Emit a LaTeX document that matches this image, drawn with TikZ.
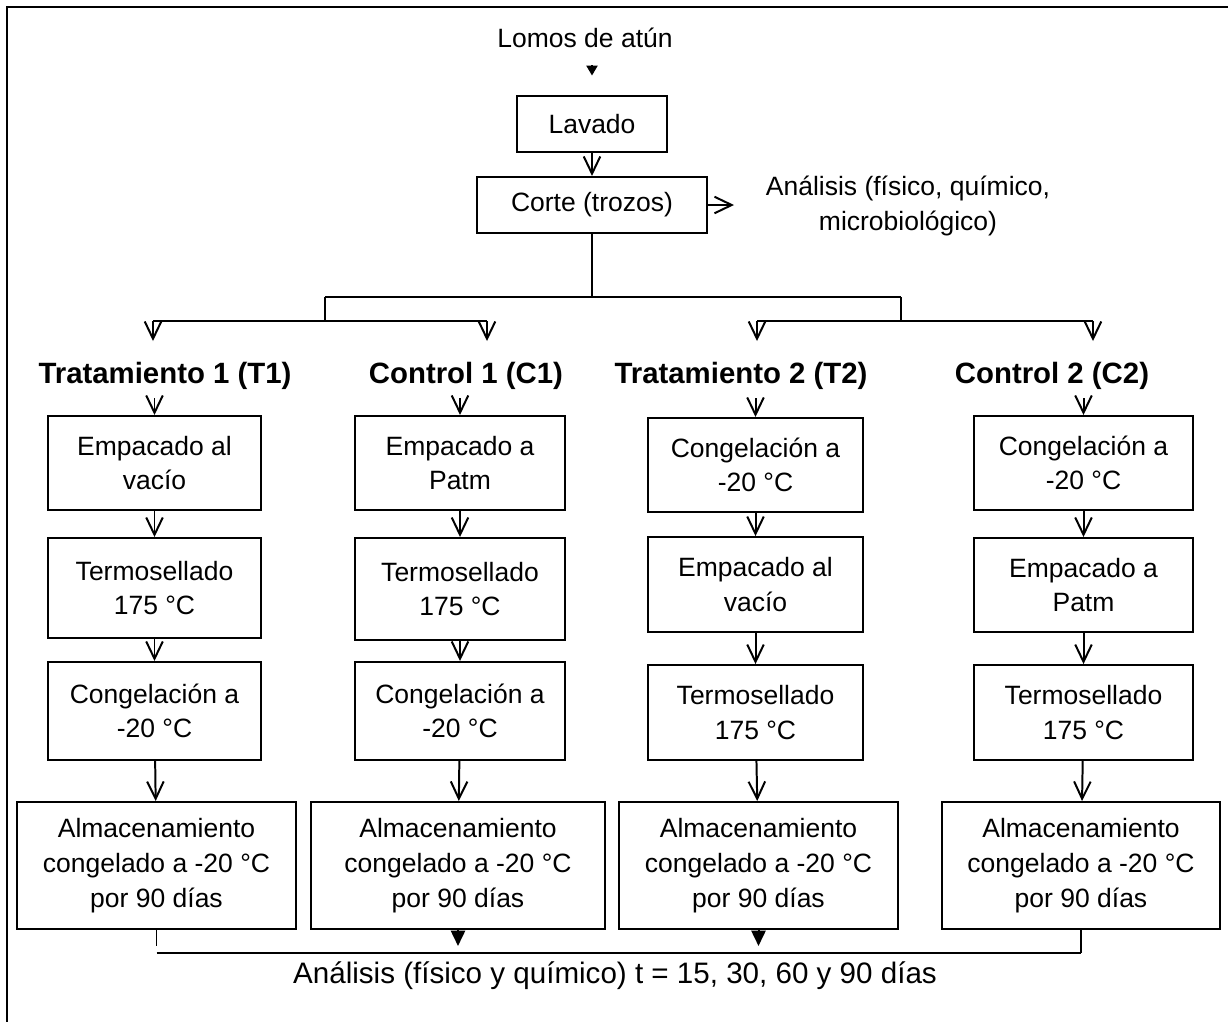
\documentclass[tikz,border=0pt]{standalone}
\usepackage{fontspec}
\setmainfont{Liberation Sans}
\usetikzlibrary{arrows.meta,positioning}

\begin{document}
\begin{tikzpicture}[x=0.453pt, y=-0.453pt, font=\fontsize{12}{15.7}\selectfont, line width=0.9pt,
  box/.style={draw, align=center, inner sep=2pt, minimum width=96.5pt, minimum height=42.6pt},
  store/.style={box, minimum width=126.4pt, minimum height=57.5pt},
  group/.style={font=\fontsize{13.3}{15}\selectfont\bfseries},
  arr/.style={-{Straight Barb[length=7.8pt, width=7.5pt]}},
  tri/.style={-{Triangle[length=7pt, width=6.5pt]}},
  small/.style={-{Triangle[length=4.5pt, width=5pt]}}]
\useasboundingbox (0,0) rectangle (1228,1021);
\draw (7,7) rectangle (1250,1050);

% tronco comun
\node (lomos) at (585,38) {Lomos de atún};
\node[box, minimum width=68pt, minimum height=25.8pt] (lavado) at (592,124) {Lavado};
\node[box, minimum width=104.2pt, minimum height=25.4pt] (corte) at (592,205) {Corte (trozos)};
\node[align=center] (an1) at (908,206) {Análisis (físico, químico,\\microbiológico)};
\draw[small, shorten <=4pt, shorten >=8.6pt] (lomos.south -| lavado.north) -- (lavado.north);
\draw[arr] (lavado) -- (corte);
\draw[arr] (corte.east) -- ++(26,0);

% ramas
\coordinate (jl) at (325,297);
\coordinate (jr) at (901,297);
\coordinate (t1in) at (153,321);
\coordinate (c1in) at (487,321);
\coordinate (t2in) at (757,321);
\coordinate (c2in) at (1093,321);
\draw (corte.south) -- (corte.south |- jl);
\draw (jl) -- (jr);
\draw (jl) -- (jl |- t1in);
\draw (jr) -- (jr |- t2in);
\draw (t1in) -- (c1in);
\draw (t2in) -- (c2in);
\foreach \c in {t1in,c1in,t2in,c2in}
  \draw[arr] (\c) -- ++(0,20);

\node[group] (t1lab) at (165,376) {Tratamiento 1 (T1)};
\node[group] (c1lab) at (466,376) {Control 1 (C1)};
\node[group] (t2lab) at (741,376) {Tratamiento 2 (T2)};
\node[group] (c2lab) at (1052,376) {Control 2 (C2)};

% T1
\node[box] (t1a) at (154.5,463) {Empacado al\\vacío};
\node[box, minimum height=45.3pt] (t1b) at (154.5,588) {Termosellado\\175 °C};
\node[box, minimum height=44.4pt] (t1c) at (154.5,711) {Congelación a\\-20 °C};
\node[store] (t1d) at (156.5,865.5) {Almacenamiento\\congelado a -20 °C\\por 90 días};

% C1
\node[box, minimum width=95.1pt] (c1a) at (460,463) {Empacado a\\Patm};
\node[box, minimum width=95.1pt, minimum height=46.2pt] (c1b) at (460,589) {Termosellado\\175 °C};
\node[box, minimum width=95.1pt, minimum height=44.4pt] (c1c) at (460,711) {Congelación a\\-20 °C};
\node[store, minimum width=133.2pt] (c1d) at (458,865.5) {Almacenamiento\\congelado a -20 °C\\por 90 días};

% T2
\node[box, minimum width=97.4pt] (t2a) at (755.5,465) {Congelación a\\-20 °C};
\node[box, minimum width=97.4pt, minimum height=43pt] (t2b) at (755.5,584.5) {Empacado al\\vacío};
\node[box, minimum width=97.4pt, minimum height=43pt] (t2c) at (755.5,712.5) {Termosellado\\175 °C};
\node[store] (t2d) at (758.5,865.5) {Almacenamiento\\congelado a -20 °C\\por 90 días};

% C2
\node[box, minimum width=99.2pt] (c2a) at (1083.5,463) {Congelación a\\-20 °C};
\node[box, minimum width=99.2pt] (c2b) at (1083.5,585) {Empacado a\\Patm};
\node[box, minimum width=99.2pt, minimum height=43pt] (c2c) at (1083.5,712.5) {Termosellado\\175 °C};
\node[store, minimum width=126pt] (c2d) at (1081,865.5) {Almacenamiento\\congelado a -20 °C\\por 90 días};

\foreach \g in {t1,c1,t2,c2} {
  \draw[arr] (\g a.north |- \g lab.south) -- (\g a.north);
  \draw[arr] (\g a) -- (\g b);
  \draw[arr] (\g b) -- (\g c);
  \draw[arr] (\g c) -- (\g d);
}

% analisis final
\coordinate (base) at (615,953);
\draw (t1d.south) -- ++(0,16);
\draw[tri] (c1d.south) -- ++(0,16);
\draw[tri] (t2d.south) -- ++(0,16);
\draw (c2d.south) -- (c2d.south |- base);
\draw (t1d.south |- base) -- (c2d.south |- base);
\node[font=\fontsize{13.4}{15}\selectfont] (an2) at (615,976) {Análisis (físico y químico) t = 15, 30, 60 y 90 días};
\end{tikzpicture}
\end{document}
